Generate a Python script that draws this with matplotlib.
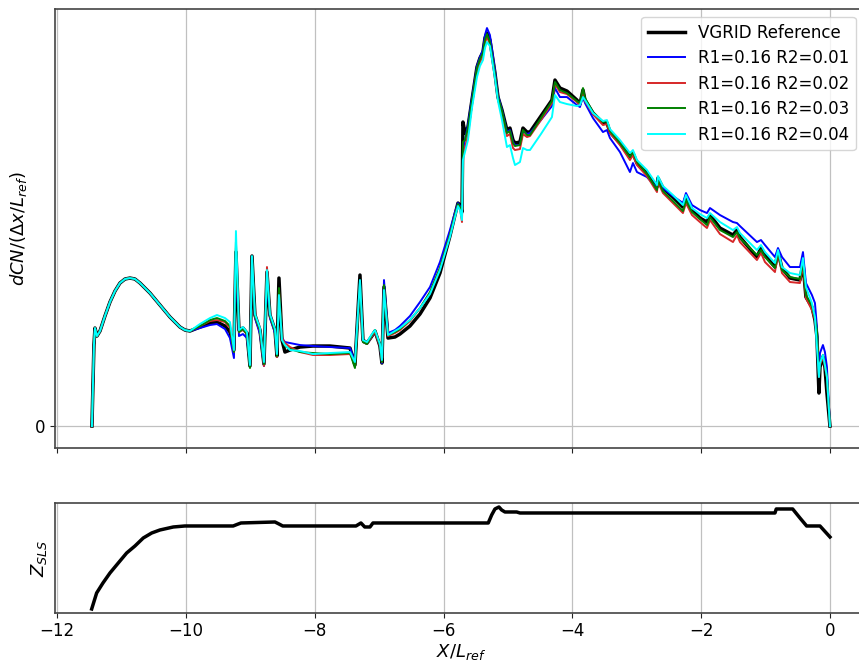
import matplotlib
matplotlib.use("Agg")
import matplotlib.pyplot as plt

# Stations along the body, X / L_ref
x_pos = [
    -11.460, -11.429, -11.413, -11.382, -11.335, -11.258, -11.180, -11.102, -11.025, -10.947,
    -10.870, -10.792, -10.714, -10.559, -10.404, -10.248, -10.093, -10.016, -9.938, -9.783,
    -9.627, -9.519, -9.394, -9.317, -9.255, -9.224, -9.177, -9.115, -9.053, -9.006,
    -8.975, -8.929, -8.851, -8.789, -8.742, -8.696, -8.618, -8.587, -8.556, -8.509,
    -8.463, -8.385, -8.230, -8.028, -7.764, -7.453, -7.376, -7.298, -7.252, -7.189,
    -7.112, -7.065, -6.988, -6.957, -6.925, -6.863, -6.755, -6.677, -6.522, -6.366,
    -6.211, -6.056, -5.901, -5.823, -5.776, -5.745, -5.714, -5.699, -5.668, -5.621,
    -5.559, -5.481, -5.435, -5.388, -5.357, -5.326, -5.280, -5.202, -5.155, -5.093,
    -5.016, -4.969, -4.922, -4.891, -4.814, -4.767, -4.705, -4.658, -4.488, -4.317,
    -4.270, -4.193, -4.084, -3.929, -3.882, -3.835, -3.804, -3.680, -3.525, -3.463,
    -3.416, -3.261, -3.106, -3.059, -2.997, -2.842, -2.686, -2.671, -2.593, -2.438,
    -2.283, -2.236, -2.143, -2.019, -1.910, -1.863, -1.708, -1.506, -1.444, -1.398,
    -1.134, -1.071, -1.009, -0.854, -0.807, -0.745, -0.621, -0.466, -0.419, -0.373,
    -0.280, -0.233, -0.202, -0.171, -0.155, -0.109, -0.078, -0.047, 0.000,
]

# dCN/(dx/L_ref), arbitrary units
dcn_vgrid = [
    0, 81, 98, 90, 95, 110, 124, 135, 143, 147,
    148, 147, 143, 133, 121, 109, 99, 96, 95, 99,
    103, 104, 100, 94, 76, 174, 96, 98, 93, 60,
    170, 111, 96, 62, 154, 111, 96, 70, 148, 86,
    74, 76, 79, 80, 80, 78, 61, 151, 86, 83,
    90, 95, 80, 63, 139, 88, 89, 92, 100, 112,
    128, 153, 190, 211, 223, 221, 214, 304, 293, 299,
    326, 359, 368, 374, 388, 393, 386, 353, 329, 316,
    296, 298, 286, 283, 284, 298, 294, 294, 310, 326,
    346, 338, 335, 326, 322, 336, 326, 313, 303, 303,
    294, 283, 269, 273, 263, 253, 239, 248, 238, 229,
    219, 229, 216, 208, 204, 211, 198, 191, 196, 189,
    169, 178, 171, 159, 174, 158, 148, 146, 163, 129,
    119, 106, 89, 33, 59, 69, 59, 33, 0,
]

dcn_r2_001 = [
    0, 81, 98, 90, 95, 110, 124, 135, 143, 147,
    148, 147, 143, 133, 121, 109, 99, 96, 95, 98,
    101, 102, 97, 88, 68, 168, 90, 92, 88, 60,
    164, 108, 92, 60, 146, 108, 93, 70, 130, 88,
    84, 83, 81, 80, 79, 78, 64, 143, 84, 82,
    90, 95, 80, 63, 146, 93, 96, 100, 110, 124,
    139, 164, 196, 214, 223, 220, 214, 276, 286, 301,
    328, 360, 369, 376, 391, 398, 391, 356, 331, 316,
    294, 296, 284, 281, 281, 295, 292, 293, 306, 320,
    338, 329, 329, 321, 319, 330, 323, 308, 294, 296,
    288, 274, 254, 263, 254, 249, 238, 248, 238, 230,
    223, 233, 221, 216, 213, 218, 211, 204, 203, 200,
    184, 186, 181, 169, 178, 169, 159, 159, 174, 143,
    131, 123, 99, 53, 73, 81, 74, 59, 0,
]

dcn_r2_002 = [
    0, 81, 98, 90, 95, 110, 124, 135, 143, 147,
    148, 147, 143, 133, 121, 109, 99, 96, 95, 100,
    105, 106, 104, 98, 74, 178, 94, 96, 92, 60,
    166, 110, 95, 60, 159, 110, 95, 69, 136, 88,
    83, 79, 74, 71, 71, 72, 63, 143, 84, 82,
    90, 94, 80, 64, 138, 90, 93, 96, 105, 118,
    133, 158, 191, 211, 221, 218, 204, 268, 278, 291,
    322, 356, 364, 370, 384, 389, 382, 351, 327, 312,
    290, 292, 278, 276, 277, 292, 289, 290, 306, 323,
    342, 334, 332, 324, 321, 335, 325, 312, 301, 302,
    293, 281, 266, 271, 261, 250, 234, 244, 233, 223,
    213, 223, 211, 204, 198, 206, 192, 184, 191, 184,
    166, 173, 164, 154, 173, 153, 144, 143, 161, 128,
    116, 106, 91, 49, 61, 69, 59, 49, 0,
]

dcn_r2_003 = [
    0, 81, 98, 90, 95, 110, 124, 135, 143, 147,
    148, 147, 143, 133, 121, 109, 99, 96, 95, 100,
    106, 108, 105, 100, 74, 184, 94, 97, 92, 58,
    168, 110, 96, 62, 151, 110, 95, 70, 138, 86,
    80, 77, 74, 73, 72, 73, 58, 144, 84, 82,
    91, 96, 81, 64, 141, 91, 94, 97, 106, 118,
    134, 158, 191, 211, 222, 219, 211, 284, 286, 298,
    325, 358, 367, 373, 386, 392, 384, 352, 329, 315,
    293, 295, 283, 280, 281, 296, 291, 291, 308, 325,
    344, 336, 333, 325, 323, 338, 328, 314, 304, 305,
    295, 283, 269, 274, 264, 252, 236, 246, 235, 225,
    215, 226, 214, 207, 201, 209, 196, 189, 194, 188,
    171, 176, 169, 158, 174, 156, 149, 147, 164, 131,
    120, 108, 96, 51, 63, 71, 61, 49, 0,
]

dcn_r2_004 = [
    0, 81, 98, 90, 95, 110, 124, 135, 143, 147,
    148, 147, 143, 133, 121, 109, 99, 96, 95, 102,
    108, 111, 108, 104, 76, 195, 96, 99, 94, 61,
    170, 112, 98, 64, 156, 112, 97, 72, 131, 86,
    81, 76, 75, 72, 73, 74, 64, 146, 86, 84,
    92, 96, 82, 66, 136, 91, 95, 98, 106, 118,
    132, 156, 189, 209, 220, 216, 206, 266, 274, 286,
    318, 349, 360, 366, 378, 384, 380, 348, 325, 306,
    279, 281, 268, 261, 264, 278, 276, 276, 292, 309,
    331, 324, 322, 320, 321, 329, 326, 313, 305, 306,
    297, 286, 273, 276, 266, 256, 241, 250, 240, 231,
    221, 231, 218, 212, 208, 213, 204, 196, 199, 193,
    176, 181, 174, 163, 176, 159, 153, 151, 168, 139,
    123, 109, 79, 49, 63, 71, 61, 49, 0,
]

# Streamline height profile Z_SLS, arbitrary units
x_sls = [
    -11.464, -11.387, -11.289, -11.180, -11.051, -10.921, -10.792, -10.663, -10.532, -10.404,
    -10.197, -10.016, -9.267, -9.208, -9.146, -8.618, -8.556, -8.497, -7.360, -7.283,
    -7.224, -7.143, -7.096, -5.306, -5.253, -5.202, -5.140, -5.098, -5.047, -4.865,
    -4.814, -4.727, -0.854, -0.834, -0.579, -0.466, -0.362, -0.155, 0.000,
]
z_sls = [
    4, 20, 30, 40, 50, 60, 67, 75, 80, 83,
    86, 87, 87, 88.5, 90, 91, 89, 87, 87, 90,
    86, 86, 90, 90, 98, 104, 106, 103, 101, 101,
    100, 100, 100, 104, 104, 95, 87, 87, 76,
]

series = [
    ("VGRID Reference", dcn_vgrid, "black", 2.5),
    ("R1=0.16 R2=0.01", dcn_r2_001, "blue", 1.4),
    ("R1=0.16 R2=0.02", dcn_r2_002, "#d62728", 1.4),
    ("R1=0.16 R2=0.03", dcn_r2_003, "green", 1.4),
    ("R1=0.16 R2=0.04", dcn_r2_004, "cyan", 1.4),
]

plt.rcParams["font.family"] = ["DejaVu Sans"]
plt.rcParams["font.size"] = 12

fig = plt.figure(figsize=(8.59, 6.63), dpi=100)
ax = fig.add_axes([0.0640, 0.3238, 0.9453, 0.6630])
ax2 = fig.add_axes([0.0640, 0.0759, 0.9453, 0.1650], sharex=ax)

for label, vals, color, lw in series:
    ax.plot(x_pos, vals, color=color, lw=lw, label=label)

ax.set_xlim(-12.034, 0.575)
ax.set_ylim(-22.3, 417.3)
ax.set_yticks([0])
ax.set_xticks([-12, -10, -8, -6, -4, -2, 0])
ax.tick_params(labelbottom=False)
ax.grid(True, color="#c0c0c0", lw=0.9)
ax.set_ylabel(r"$dCN/(\Delta x/L_{ref})$", fontsize=13)
ax.legend(loc="upper right", bbox_to_anchor=(0.9965, 1.0), fontsize=12,
          borderaxespad=0.5, handlelength=2.2, labelspacing=0.45)

ax2.plot(x_sls, z_sls, color="black", lw=2.5)
ax2.set_ylim(0.3, 109.7)
ax2.set_yticks([])
ax2.grid(True, color="#c0c0c0", lw=0.9)
ax2.set_ylabel(r"$Z_{SLS}$", fontsize=13)
ax2.set_xlabel(r"$X/L_{ref}$", fontsize=13, labelpad=1)

for a in (ax, ax2):
    for s in a.spines.values():
        s.set_color("#444444")
        s.set_linewidth(1.2)
    a.tick_params(colors="#222222", labelcolor="black", labelsize=12)

fig.savefig("out.png", dpi=100)
